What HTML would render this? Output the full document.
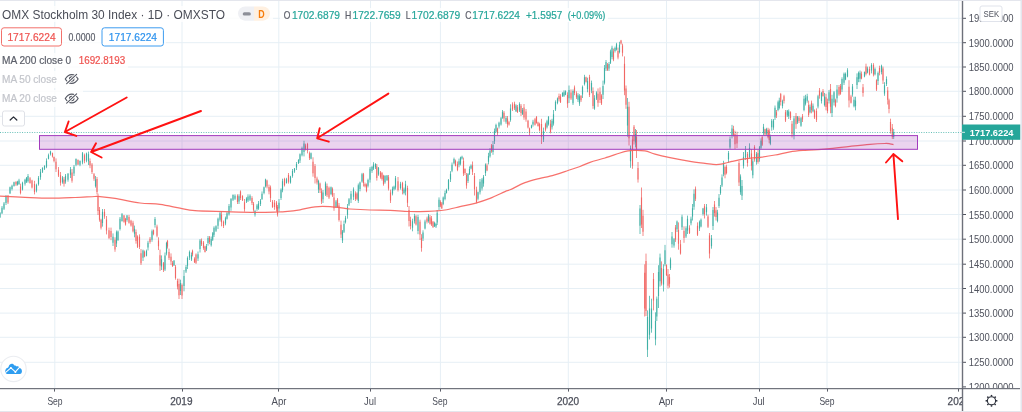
<!DOCTYPE html>
<html><head><meta charset="utf-8"><title>OMXS30</title>
<style>html,body{margin:0;padding:0;background:#fff;}body{width:1022px;height:412px;overflow:hidden;}svg{display:block;will-change:transform;opacity:0.9999;}text{font-family:"Liberation Sans",sans-serif;}</style>
</head><body>
<svg width="1022" height="412" viewBox="0 0 1022 412">
<rect x="0" y="0" width="1022" height="412" fill="#ffffff"/>
<g stroke="#e6eff5" stroke-width="1">
<line x1="0" y1="362.3" x2="962" y2="362.3"/>
<line x1="0" y1="337.3" x2="962" y2="337.3"/>
<line x1="0" y1="313.1" x2="962" y2="313.1"/>
<line x1="0" y1="288.5" x2="962" y2="288.5"/>
<line x1="0" y1="264.2" x2="962" y2="264.2"/>
<line x1="0" y1="239.2" x2="962" y2="239.2"/>
<line x1="0" y1="214.5" x2="962" y2="214.5"/>
<line x1="0" y1="190.0" x2="962" y2="190.0"/>
<line x1="0" y1="165.3" x2="962" y2="165.3"/>
<line x1="0" y1="141.0" x2="962" y2="141.0"/>
<line x1="0" y1="116.3" x2="962" y2="116.3"/>
<line x1="0" y1="91.3" x2="962" y2="91.3"/>
<line x1="0" y1="67.0" x2="962" y2="67.0"/>
<line x1="0" y1="42.7" x2="962" y2="42.7"/>
<line x1="0" y1="18.3" x2="962" y2="18.3"/>
<line x1="54.8" y1="1" x2="54.8" y2="388"/>
<line x1="182.0" y1="1" x2="182.0" y2="388"/>
<line x1="278.8" y1="1" x2="278.8" y2="388"/>
<line x1="370.5" y1="1" x2="370.5" y2="388"/>
<line x1="440.4" y1="1" x2="440.4" y2="388"/>
<line x1="568.3" y1="1" x2="568.3" y2="388"/>
<line x1="666.5" y1="1" x2="666.5" y2="388"/>
<line x1="759.4" y1="1" x2="759.4" y2="388"/>
<line x1="827.0" y1="1" x2="827.0" y2="388"/>
<line x1="958.8" y1="1" x2="958.8" y2="388"/>
</g>
<g fill="none" stroke-linecap="butt">
<path d="M8.0 195.0V204.0M16.0 181.0V186.0M20.5 183.7V194.4M30.0 177.0V183.7M32.0 179.8V188.5M34.5 180.8V194.4M52.5 152.6V157.5M54.0 156.5V162.3M56.0 158.4V172.0M58.5 167.0V177.0M60.5 172.0V185.6M64.0 177.0V186.6M72.0 169.0V182.7M78.0 159.4V165.2M84.5 153.6V163.3M90.0 158.4V168.2M92.0 163.0V174.0M94.0 173.0V180.8M97.0 177.0V194.4M98.0 193.6V215.0M99.5 207.0V221.7M101.0 218.8V229.5M104.5 209.0V218.8M106.5 216.0V234.4M109.0 227.6V239.2M111.0 227.6V240.2M115.0 237.3V251.8M124.0 215.0V222.7M125.5 217.9V225.6M129.0 215.0V223.7M131.0 219.8V226.6M133.0 220.8V232.4M136.0 229.5V243.7M137.5 235.3V248.0M139.5 234.4V249.0M141.0 249.0V265.0M144.5 250.5V257.3M150.0 237.0V243.7M153.5 229.5V235.3M157.0 224.7V237.3M158.5 237.3V250.0M160.0 249.6V271.0M163.5 262.0V272.0M167.5 239.9V248.6M169.0 248.6V260.0M171.0 253.4V265.0M172.5 261.0V267.0M175.5 265.0V279.7M177.5 278.7V289.4M179.0 278.7V299.0M182.0 283.5V299.0M192.5 249.6V256.4M194.5 257.3V263.0M196.0 253.4V264.0M201.5 238.5V246.0M203.5 241.0V249.8M205.0 245.7V252.5M209.5 236.0V244.2M221.5 211.7V226.3M223.5 220.5V228.0M237.5 194.3V204.0M240.5 190.4V200.0M242.5 195.2V201.0M244.5 199.0V211.7M252.0 196.2V205.0M253.5 202.0V211.7M267.0 179.7V188.4M269.0 184.6V194.3M270.5 185.5V202.0M272.5 200.0V207.9M274.5 200.0V209.8M276.5 201.0V211.7M277.5 205.0V216.6M284.5 177.8V186.5M288.5 173.0V183.6M305.5 143.7V150.5M307.5 142.8V153.4M309.5 151.5V160.0M313.0 157.3V176.7M315.0 164.0V183.5M317.0 176.7V184.5M320.0 182.6V193.0M321.5 188.4V204.0M327.0 183.5V197.0M329.0 186.5V199.0M332.5 187.4V197.0M334.0 193.0V210.8M337.5 198.0V207.8M339.0 203.0V221.6M341.0 220.6V238.0M355.5 191.3V201.0M357.0 192.3V200.0M363.5 172.9V186.5M365.0 182.6V187.4M366.5 183.5V192.3M376.8 164.0V180.6M380.5 171.0V178.7M382.0 172.0V180.6M383.5 174.8V185.7M388.5 175.0V190.5M390.5 189.6V203.0M398.0 177.0V191.5M402.5 181.8V194.4M407.5 185.7V207.0M409.0 206.0V226.5M410.5 216.7V229.4M416.0 214.8V225.5M420.0 219.7V240.0M421.5 234.2V251.7M427.0 216.7V223.5M430.0 215.0V224.6M431.5 216.0V226.0M433.0 221.0V228.0M440.5 200.3V207.1M441.8 202.0V209.0M455.5 159.6V166.4M457.5 161.5V171.2M463.5 157.6V176.0M465.0 168.3V175.0M466.5 173.0V188.7M472.5 161.5V175.0M474.5 173.0V195.5M476.5 186.7V203.3M487.0 163.4V171.2M491.5 144.0V152.8M497.5 127.6V135.3M504.0 111.0V121.7M507.5 116.0V127.6M509.0 120.8V125.6M512.5 102.3V111.0M514.5 101.7V110.0M517.5 105.0V113.0M521.0 104.0V116.0M524.0 104.0V119.8M526.0 109.0V121.7M528.0 119.8V128.5M529.5 127.6V135.3M535.0 117.9V125.6M536.5 116.0V123.7M538.0 121.7V126.6M539.5 122.7V131.5M541.5 118.8V144.0M545.5 122.7V131.5M550.5 119.8V133.4M559.0 93.6V101.4M560.5 94.2V103.0M567.5 92.3V107.8M571.0 89.4V100.0M574.5 85.5V95.2M576.5 91.3V99.0M581.0 95.2V102.0M586.0 76.7V82.6M589.5 74.8V97.0M593.0 87.4V108.8M598.0 88.4V106.8M600.0 87.4V103.0M601.5 94.2V105.0M607.5 63.0V71.0M613.5 48.6V61.2M618.0 47.6V59.3M621.0 39.9V44.7M622.5 43.7V56.4M624.5 56.4V95.2M626.0 85.5V108.8M629.0 101.8V145.5M632.5 135.8V168.8M634.0 125.0V144.5M636.5 130.0V158.0M638.0 162.0V182.6M641.5 187.5V228.0M643.0 209.8V236.0M644.7 264.3V316.5M646.0 253.6V316.0M653.5 273.0V310.4M661.5 261.4V285.6M666.5 264.3V276.0M668.0 269.0V288.5M669.5 274.0V287.6M675.5 225.0V241.9M678.5 222.4V249.7M680.5 240.0V254.6M684.0 226.3V242.8M689.5 225.3V234.0M695.5 186.5V201.0M697.5 222.4V236.0M704.5 204.0V218.5M708.0 214.7V228.0M709.5 233.0V258.4M714.5 201.0V216.6M716.0 207.0V220.5M725.0 165.6V178.3M726.5 164.7V174.4M733.5 125.8V136.5M735.0 130.7V149.0M737.0 131.7V148.0M739.0 160.8V186.0M747.5 152.0V166.6M751.5 149.0V170.5M754.5 145.2V161.7M758.0 150.0V163.7M762.2 135.5V146.0M765.0 128.7V135.0M768.0 127.8V138.4M769.2 128.7V143.3M776.5 110.0V118.0M780.7 92.9V105.5M784.0 94.8V103.5M785.5 110.0V122.0M790.5 111.3V120.0M792.0 121.0V137.5M796.0 113.0V128.8M799.0 116.0V123.0M802.5 114.0V122.0M808.6 100.6V117.0M811.5 100.6V113.3M814.5 109.4V119.0M816.5 108.4V122.0M819.5 88.0V98.7M823.0 89.0V96.7M826.0 93.8V110.3M827.5 98.7V113.3M830.5 84.0V113.3M835.5 98.7V107.4M839.0 85.0V95.8M840.5 84.0V94.8M849.0 80.2V107.4M851.0 94.8V103.5M861.5 71.5V79.3M863.0 84.0V96.7M866.0 63.7V75.4M869.5 66.6V75.4M873.5 63.2V76.4M876.5 79.3V91.0M879.5 65.7V75.4M883.0 66.6V84.0M887.7 87.0V104.5M889.0 98.7V113.3M890.5 118.7V133.6M892.3 124.0V139.0" stroke="#ef5350" stroke-width="0.9" opacity="0.75"/>
<path d="M0.0 212.0V218.0M2.0 206.0V214.0M4.0 202.0V210.0M6.0 195.0V205.0M10.0 186.6V194.0M12.0 184.7V190.5M14.0 181.7V186.6M17.5 180.8V185.6M19.0 178.8V184.7M22.5 181.7V190.5M25.0 178.8V185.6M26.5 177.0V183.0M28.0 174.0V182.7M36.5 183.7V192.4M38.5 176.0V185.6M40.5 169.0V179.8M42.5 167.2V173.0M44.5 165.2V170.0M46.5 158.4V168.2M48.5 153.6V159.4M50.5 150.7V155.5M62.5 176.0V183.7M65.5 174.0V183.7M68.0 173.0V181.7M70.5 167.0V178.0M74.0 165.0V176.0M76.0 158.4V166.2M80.0 160.4V166.2M82.5 152.0V164.3M86.5 152.6V162.3M88.5 151.6V165.0M95.5 176.0V187.6M102.5 209.0V226.6M113.0 233.4V246.0M116.5 230.5V247.0M118.0 230.5V241.0M120.0 217.0V230.5M122.0 213.0V221.7M127.0 215.0V221.7M134.5 225.6V237.3M143.0 249.6V261.0M146.5 249.6V256.4M148.0 240.8V250.5M152.0 229.5V241.8M155.0 217.0V227.6M161.5 255.4V270.0M165.0 252.5V271.0M166.5 241.8V255.4M174.0 260.0V266.0M180.5 279.7V295.0M184.0 270.0V291.3M186.0 265.0V273.0M187.5 256.4V269.0M189.5 250.5V260.0M191.5 252.5V261.0M198.0 251.5V261.0M200.0 239.0V252.5M206.5 244.0V251.0M208.0 236.0V245.7M211.2 236.5V246.6M212.7 232.0V241.0M214.0 226.3V237.0M216.0 225.3V232.0M218.0 217.6V229.0M220.0 211.7V221.5M225.5 216.6V225.3M227.0 211.7V219.5M229.0 204.0V215.6M231.0 198.0V210.8M233.0 194.3V201.0M235.0 194.3V200.0M239.0 194.3V204.0M246.5 197.2V203.0M248.0 194.3V202.0M250.0 194.3V201.0M255.0 209.8V216.6M257.0 204.0V210.8M258.5 201.0V209.8M260.5 199.0V206.0M262.0 191.4V200.0M264.0 186.5V194.3M265.5 178.7V187.5M279.0 199.0V211.7M281.0 188.4V200.0M282.5 178.7V192.3M286.5 177.8V183.6M290.5 175.8V183.6M292.5 169.0V177.7M294.5 168.0V172.9M296.5 162.0V170.0M298.5 159.3V164.0M300.0 153.4V163.0M302.0 146.6V156.4M304.0 140.8V156.4M311.0 152.5V159.3M318.5 179.7V193.0M323.0 190.0V203.0M325.5 181.6V196.0M331.0 186.5V195.2M336.0 200.0V208.0M342.5 230.0V243.0M344.0 220.6V233.0M345.5 215.8V223.5M347.5 204.0V218.7M349.0 198.0V206.0M351.0 191.0V203.0M353.5 187.4V200.0M358.3 183.5V203.0M360.0 181.6V191.3M362.0 172.9V182.6M368.0 178.7V187.4M370.0 167.0V182.6M372.0 166.0V172.9M373.5 162.2V170.0M375.5 163.2V169.0M378.5 167.0V175.8M385.0 175.0V183.7M387.0 175.0V180.8M392.5 186.6V195.4M394.0 185.7V190.5M395.5 176.0V189.6M400.5 181.8V189.6M404.0 187.6V194.4M405.5 180.8V195.4M412.5 218.7V231.3M414.5 213.8V223.5M418.0 214.8V234.2M423.0 230.3V241.0M425.0 219.7V229.4M428.5 214.0V222.7M434.5 221.7V227.0M436.0 222.7V228.0M437.2 210.0V225.0M439.0 197.4V210.0M443.2 196.5V205.2M445.0 190.6V200.3M446.5 188.7V193.5M448.5 179.0V190.6M450.5 171.2V182.0M452.0 162.5V172.2M454.0 157.6V164.4M459.0 158.6V167.3M460.5 156.7V165.4M462.0 155.7V159.6M468.0 173.0V183.0M469.5 166.4V175.0M471.0 164.4V169.3M478.0 191.6V200.3M480.0 179.0V194.5M482.0 178.0V190.6M483.5 175.0V186.7M485.5 163.4V176.0M488.5 152.8V164.4M490.0 148.0V157.6M493.0 141.0V154.8M494.5 128.5V144.0M496.0 123.7V132.4M499.0 121.7V128.5M501.0 117.0V125.6M502.5 110.0V118.8M506.0 116.0V123.7M510.5 104.3V121.7M516.0 104.3V112.0M519.5 102.3V112.0M522.5 108.0V115.0M531.5 124.7V128.5M533.0 119.8V126.6M543.5 127.6V142.0M547.0 119.8V128.5M548.5 116.0V125.6M552.0 118.8V129.5M553.5 110.0V125.6M555.5 100.4V111.0M557.5 97.5V104.3M562.5 92.3V97.0M564.0 90.3V97.0M565.5 90.3V95.2M569.0 85.5V103.0M573.0 89.4V105.0M578.0 93.2V102.0M579.5 94.2V105.9M582.5 85.5V98.0M584.5 74.8V85.5M587.5 77.7V92.3M591.5 80.6V93.2M594.5 95.2V109.8M596.5 91.3V100.0M603.0 80.6V99.0M604.5 65.0V84.5M606.0 60.0V71.0M609.0 62.0V71.0M610.5 49.6V64.0M612.0 45.7V59.3M615.0 46.6V52.5M616.5 42.8V50.5M619.5 41.8V53.4M627.5 98.0V136.7M630.5 145.5V167.8M635.5 129.0V147.4M640.0 205.0V234.0M647.5 310.4V357.0M649.5 295.8V339.5M651.5 298.7V332.7M655.5 312.3V345.3M656.8 296.5V321.0M658.5 265.2V308.0M660.0 253.6V286.6M663.5 264.3V291.5M665.0 244.9V266.2M670.5 257.5V270.0M672.0 232.0V247.7M674.0 238.0V247.7M677.0 220.5V232.0M682.0 214.7V230.0M686.0 226.3V238.0M687.5 215.6V234.0M691.0 216.6V225.3M692.5 204.0V220.5M694.0 189.4V209.8M699.5 220.5V231.0M701.0 218.5V227.3M703.0 207.9V215.6M706.5 204.0V215.6M711.5 235.0V248.7M713.0 207.0V230.0M717.5 209.8V222.4M719.0 194.0V207.9M720.5 185.0V194.8M722.0 174.4V187.0M723.5 160.8V176.3M728.5 151.0V162.7M730.0 136.5V149.0M732.0 124.9V138.4M740.5 174.4V194.8M742.0 180.0V200.0M743.5 152.0V168.5M745.5 146.0V159.8M749.5 143.3V158.8M752.8 158.8V178.3M756.5 152.0V164.7M759.5 146.0V161.7M761.0 138.4V149.0M763.5 123.9V135.0M766.5 127.8V135.0M770.4 134.6V145.2M771.7 119.0V130.7M773.5 119.0V129.8M775.0 105.5V120.0M778.0 100.6V111.3M779.3 97.7V109.4M782.5 99.7V108.4M787.3 110.0V117.0M788.7 109.4V119.0M794.0 116.0V139.4M797.5 116.0V124.0M801.0 117.0V126.8M804.0 95.8V111.3M805.5 94.8V105.5M807.2 93.8V102.6M810.0 104.5V113.3M813.0 103.5V112.3M818.0 94.8V108.4M821.5 91.9V103.5M824.5 92.9V106.5M829.0 90.0V103.5M832.0 94.8V117.0M834.0 91.0V105.5M837.0 85.0V102.6M842.0 77.3V92.0M844.0 72.5V85.0M845.5 72.5V80.2M847.5 68.2V77.3M852.5 84.0V96.7M854.0 96.7V107.4M855.5 96.7V110.3M857.0 73.4V89.0M858.5 71.5V82.2M860.0 70.5V82.2M864.5 71.5V77.3M867.5 66.6V73.4M871.5 63.2V73.4M875.0 67.6V75.4M878.0 71.5V85.0M881.5 64.7V74.4M884.5 82.2V95.8M886.5 76.4V86.0M893.7 129.0V139.0" stroke="#26a69a" stroke-width="0.9" opacity="0.75"/>
<path d="M8.0 195.8V202.4M16.0 182.1V184.6M20.5 186.6V192.9M30.0 178.3V183.1M32.0 180.6V187.4M34.5 183.9V192.0M52.5 153.2V156.6M54.0 157.0V161.0M56.0 161.8V169.2M58.5 169.7V175.5M60.5 175.2V182.7M64.0 179.5V183.8M72.0 172.6V180.7M78.0 160.1V164.6M84.5 155.2V160.7M90.0 161.0V165.6M92.0 164.6V172.1M94.0 174.2V178.7M97.0 179.1V192.1M98.0 196.4V211.0M99.5 210.1V219.7M101.0 219.7V227.7M104.5 211.8V216.5M106.5 219.6V230.4M109.0 230.3V238.1M111.0 231.1V237.0M115.0 239.7V249.4M124.0 215.6V221.8M125.5 218.7V224.4M129.0 216.9V222.7M131.0 220.7V225.5M133.0 222.7V231.2M136.0 232.1V241.1M137.5 236.6V246.7M139.5 236.7V247.0M141.0 253.2V263.2M144.5 251.8V256.5M150.0 238.8V242.1M153.5 230.2V233.9M157.0 226.6V235.7M158.5 240.6V246.2M160.0 255.3V265.5M163.5 263.3V270.1M167.5 241.1V246.6M169.0 251.9V258.0M171.0 256.7V261.6M172.5 262.7V266.0M175.5 266.8V277.9M177.5 281.0V286.4M179.0 284.1V295.2M182.0 285.0V295.5M192.5 250.7V254.4M194.5 258.7V262.3M196.0 254.5V262.8M201.5 240.7V244.3M203.5 242.4V248.0M205.0 246.4V251.9M209.5 237.4V242.0M221.5 214.7V222.2M223.5 221.8V225.9M237.5 195.8V202.1M240.5 191.4V198.0M242.5 196.0V200.2M244.5 202.2V209.3M252.0 197.9V203.0M253.5 203.7V209.8M267.0 180.5V186.4M269.0 187.0V191.6M270.5 187.4V198.1M272.5 201.8V207.0M274.5 202.7V206.9M276.5 202.4V208.6M277.5 206.9V214.4M284.5 178.9V185.2M288.5 175.1V181.7M305.5 145.5V149.6M307.5 144.0V150.4M309.5 153.2V158.0M313.0 161.8V173.3M315.0 165.9V177.9M317.0 178.4V182.5M320.0 183.6V190.2M321.5 191.2V201.6M327.0 186.1V195.2M329.0 187.8V197.6M332.5 188.8V195.6M334.0 197.4V208.2M337.5 199.5V207.0M339.0 205.5V220.0M341.0 224.8V234.5M355.5 193.6V198.9M357.0 193.6V198.8M363.5 174.2V182.9M365.0 183.9V186.3M366.5 184.7V191.1M376.8 166.5V178.0M380.5 172.4V177.2M382.0 173.1V179.0M383.5 175.7V184.2M388.5 177.3V188.5M390.5 192.4V200.4M398.0 181.3V189.9M402.5 182.9V191.1M407.5 188.1V202.8M409.0 209.9V221.1M410.5 220.0V226.1M416.0 216.2V224.6M420.0 221.8V234.6M421.5 237.8V247.9M427.0 218.4V221.8M430.0 217.2V223.7M431.5 218.4V224.6M433.0 221.7V227.0M440.5 202.0V205.6M441.8 203.5V208.3M455.5 160.8V165.7M457.5 164.2V170.0M463.5 160.9V173.4M465.0 169.1V173.1M466.5 175.0V185.4M472.5 165.2V171.8M474.5 175.9V189.3M476.5 189.8V201.9M487.0 165.5V170.4M491.5 145.4V151.3M497.5 128.4V133.3M504.0 112.7V118.6M507.5 118.5V124.3M509.0 122.2V124.6M512.5 104.4V109.4M514.5 103.7V108.2M517.5 107.3V112.1M521.0 105.7V113.1M524.0 107.5V117.5M526.0 111.6V119.6M528.0 120.8V127.5M529.5 128.6V133.1M535.0 119.3V124.7M536.5 116.9V122.9M538.0 122.5V126.1M539.5 123.9V130.3M541.5 124.0V137.1M545.5 124.2V129.8M550.5 123.8V131.9M559.0 95.9V99.3M560.5 96.6V102.3M567.5 94.9V103.4M571.0 92.5V98.6M574.5 87.4V93.0M576.5 93.5V97.2M581.0 95.8V100.3M586.0 77.3V81.8M589.5 77.1V94.9M593.0 90.9V106.0M598.0 93.8V102.7M600.0 91.7V100.1M601.5 95.6V103.5M607.5 64.4V69.9M613.5 51.5V59.6M618.0 51.0V57.6M621.0 40.5V43.5M622.5 45.5V52.7M624.5 63.7V90.5M626.0 88.5V104.8M629.0 106.7V138.2M632.5 139.5V165.8M634.0 126.8V141.3M636.5 136.8V149.6M638.0 167.9V179.5M641.5 197.4V224.5M643.0 215.7V231.7M644.7 272.8V308.5M646.0 260.9V311.0M653.5 278.9V300.6M661.5 268.1V283.5M666.5 265.3V274.9M668.0 274.5V285.8M669.5 277.3V283.8M675.5 227.5V239.5M678.5 230.1V243.7M680.5 244.2V253.4M684.0 231.1V238.0M689.5 227.8V233.0M695.5 188.7V198.7M697.5 225.8V234.7M704.5 206.2V214.2M708.0 216.5V226.7M709.5 235.6V253.6M714.5 204.4V213.0M716.0 210.3V216.9M725.0 167.0V174.8M726.5 166.7V172.9M733.5 129.0V135.4M735.0 134.1V144.2M737.0 136.0V143.4M739.0 163.0V182.4M747.5 154.0V162.9M751.5 153.5V165.8M754.5 147.0V159.6M758.0 153.1V162.0M762.2 137.1V144.7M765.0 129.3V134.4M768.0 130.1V137.3M769.2 130.4V139.9M776.5 112.2V115.6M780.7 93.9V102.0M784.0 96.3V101.1M785.5 112.2V120.6M790.5 112.2V118.1M792.0 123.7V134.3M796.0 116.1V124.3M799.0 117.8V121.0M802.5 116.3V119.6M808.6 104.9V115.1M811.5 102.7V109.9M814.5 110.6V117.4M816.5 111.0V119.8M819.5 90.6V95.7M823.0 90.9V96.0M826.0 97.3V107.0M827.5 101.9V111.1M830.5 89.1V106.7M835.5 100.3V106.3M839.0 87.0V94.5M840.5 86.0V93.7M849.0 86.8V100.6M851.0 96.5V102.7M861.5 73.7V78.4M863.0 87.2V93.1M866.0 66.6V74.1M869.5 68.9V74.4M873.5 64.9V74.6M876.5 80.3V89.6M879.5 67.9V72.7M883.0 68.4V80.6M887.7 90.6V99.7M889.0 100.2V108.9M890.5 122.0V131.1M892.3 127.8V136.9" stroke="#ef5350" stroke-width="1.2" opacity="0.65"/>
<path d="M0.0 212.9V217.3M2.0 207.8V213.2M4.0 203.6V208.7M6.0 195.9V203.1M10.0 187.3V193.3M12.0 185.7V189.0M14.0 182.2V186.0M17.5 181.8V184.8M19.0 180.5V184.2M22.5 182.7V189.6M25.0 179.8V183.8M26.5 177.7V181.8M28.0 175.9V181.3M36.5 185.0V190.6M38.5 177.7V184.2M40.5 171.8V177.3M42.5 168.0V171.8M44.5 166.1V168.7M46.5 160.8V166.8M48.5 155.3V158.8M50.5 151.5V154.3M62.5 177.6V182.3M65.5 175.8V181.5M68.0 173.8V179.7M70.5 169.4V174.7M74.0 166.8V173.5M76.0 159.1V164.8M80.0 160.9V164.8M82.5 153.3V162.6M86.5 153.5V160.6M88.5 154.3V161.3M95.5 179.4V186.3M102.5 211.8V223.0M113.0 236.8V242.8M116.5 232.2V243.4M118.0 231.5V240.0M120.0 218.7V228.9M122.0 214.3V220.9M127.0 215.6V219.9M134.5 228.7V233.8M143.0 250.6V257.7M146.5 251.0V255.8M148.0 242.7V247.6M152.0 231.2V239.8M155.0 219.1V224.9M161.5 259.2V266.5M165.0 255.4V269.4M166.5 243.0V253.5M174.0 260.8V265.2M180.5 283.1V291.1M184.0 276.0V285.9M186.0 267.0V271.5M187.5 257.9V265.8M189.5 252.0V257.6M191.5 255.0V259.6M198.0 254.2V258.6M200.0 240.5V249.0M206.5 246.1V249.4M208.0 237.9V242.9M211.2 239.1V245.3M212.7 233.2V239.7M214.0 227.7V234.8M216.0 226.2V230.8M218.0 218.8V225.8M220.0 213.2V219.7M225.5 218.3V223.6M227.0 213.2V218.8M229.0 206.1V214.2M231.0 199.0V207.5M233.0 195.1V199.8M235.0 195.7V198.8M239.0 196.3V201.6M246.5 198.4V201.6M248.0 196.5V200.6M250.0 195.7V199.7M255.0 211.1V214.6M257.0 205.6V208.9M258.5 203.5V208.6M260.5 200.4V204.0M262.0 193.7V199.1M264.0 187.3V192.9M265.5 179.5V186.3M279.0 202.8V208.4M281.0 189.7V198.0M282.5 181.3V190.2M286.5 179.2V183.1M290.5 176.5V182.4M292.5 170.9V176.0M294.5 168.5V171.4M296.5 164.0V167.6M298.5 159.8V163.3M300.0 154.3V160.6M302.0 148.0V155.3M304.0 143.5V152.0M311.0 153.2V158.7M318.5 181.0V189.4M323.0 192.6V199.3M325.5 183.6V194.4M331.0 187.3V194.1M336.0 201.5V207.0M342.5 231.6V240.6M344.0 224.1V231.7M345.5 217.8V222.2M347.5 206.8V214.8M349.0 199.3V204.5M351.0 193.8V199.4M353.5 189.4V196.7M358.3 185.3V200.9M360.0 182.5V188.9M362.0 174.2V181.5M368.0 180.0V185.8M370.0 168.8V179.8M372.0 167.0V170.9M373.5 164.5V168.4M375.5 164.0V167.3M378.5 167.7V174.4M385.0 175.9V182.2M387.0 175.5V180.3M392.5 188.8V193.4M394.0 186.8V189.2M395.5 178.3V187.5M400.5 183.7V187.9M404.0 189.5V192.9M405.5 184.3V191.6M412.5 221.3V227.8M414.5 216.0V221.2M418.0 216.9V231.1M423.0 232.6V238.5M425.0 221.5V228.6M428.5 215.7V221.0M434.5 223.0V226.3M436.0 224.0V226.4M437.2 212.8V222.5M439.0 199.7V207.1M443.2 197.5V204.0M445.0 193.0V198.9M446.5 189.7V193.1M448.5 180.1V189.0M450.5 173.7V179.5M452.0 164.7V170.8M454.0 158.9V163.2M459.0 161.2V164.8M460.5 157.4V163.8M462.0 156.7V158.5M468.0 174.1V181.0M469.5 168.9V174.1M471.0 165.7V168.4M478.0 192.3V198.7M480.0 181.8V192.2M482.0 179.4V188.6M483.5 176.7V183.6M485.5 164.4V172.9M488.5 156.1V161.7M490.0 150.7V156.2M493.0 145.1V151.9M494.5 131.0V141.3M496.0 124.9V131.6M499.0 122.7V126.6M501.0 118.2V124.4M502.5 111.7V117.7M506.0 118.1V121.7M510.5 108.4V120.1M516.0 105.4V111.3M519.5 104.1V110.5M522.5 110.1V114.0M531.5 125.4V128.0M533.0 121.7V124.6M543.5 131.1V139.5M547.0 121.2V127.2M548.5 116.9V124.2M552.0 120.8V127.2M553.5 114.2V123.6M555.5 101.9V109.6M557.5 98.6V103.1M562.5 92.7V95.9M564.0 92.2V95.8M565.5 91.3V94.8M569.0 90.1V98.3M573.0 91.0V103.2M578.0 95.2V99.8M579.5 96.3V103.5M582.5 87.1V94.5M584.5 77.2V83.9M587.5 80.9V88.9M591.5 83.1V90.6M594.5 98.3V108.6M596.5 92.6V98.4M603.0 86.0V94.7M604.5 67.9V82.8M606.0 62.1V68.5M609.0 64.0V68.4M610.5 51.5V62.7M612.0 47.8V57.0M615.0 48.1V51.1M616.5 44.3V49.5M619.5 44.8V51.9M627.5 106.8V125.5M630.5 148.3V161.2M635.5 134.1V142.4M640.0 208.5V225.7M647.5 317.0V349.7M649.5 308.5V334.8M651.5 308.6V328.4M655.5 320.9V339.5M656.8 298.7V316.5M658.5 272.1V295.9M660.0 257.6V281.3M663.5 268.9V284.5M665.0 250.2V264.3M670.5 259.4V268.3M672.0 236.6V244.3M674.0 239.3V245.4M677.0 221.4V229.2M682.0 216.7V227.2M686.0 228.2V236.4M687.5 218.8V230.5M691.0 218.8V223.2M692.5 208.3V216.4M694.0 193.8V206.7M699.5 221.8V228.4M701.0 219.7V226.5M703.0 208.6V214.0M706.5 207.2V212.2M711.5 238.2V246.3M713.0 210.0V226.1M717.5 212.6V221.1M719.0 197.7V205.9M720.5 187.0V193.2M722.0 177.5V185.4M723.5 162.9V174.2M728.5 153.0V159.2M730.0 138.9V147.4M732.0 128.4V135.4M740.5 176.6V192.3M742.0 185.9V195.8M743.5 156.7V165.8M745.5 149.7V157.3M749.5 147.8V157.2M752.8 161.3V175.2M756.5 153.7V162.0M759.5 147.3V159.3M761.0 140.8V147.7M763.5 126.7V132.8M766.5 129.0V133.6M770.4 136.4V143.7M771.7 120.7V127.3M773.5 120.6V127.6M775.0 107.8V117.5M778.0 102.3V110.0M779.3 100.5V107.9M782.5 101.2V106.1M787.3 110.6V115.6M788.7 111.5V116.3M794.0 118.6V136.1M797.5 116.8V122.5M801.0 118.2V125.7M804.0 98.7V109.9M805.5 97.8V103.7M807.2 96.3V100.7M810.0 106.7V112.2M813.0 105.8V111.2M818.0 96.3V106.6M821.5 92.9V101.1M824.5 96.5V105.1M829.0 92.3V100.7M832.0 98.8V113.1M834.0 92.2V102.4M837.0 89.4V98.2M842.0 78.9V89.4M844.0 73.8V82.8M845.5 74.0V79.5M847.5 70.2V76.4M852.5 86.4V94.6M854.0 99.8V106.2M855.5 100.4V106.2M857.0 77.2V85.0M858.5 72.8V79.0M860.0 72.7V78.8M864.5 72.0V76.4M867.5 68.5V72.4M871.5 65.1V70.5M875.0 69.1V74.2M878.0 73.1V81.1M881.5 65.8V71.9M884.5 85.2V93.6M886.5 79.0V84.1M893.7 132.0V136.9" stroke="#26a69a" stroke-width="1.2" opacity="0.65"/>
</g>
<path d="M0 196C4.2 196.22 16.7 196.93 25 197.3C33.3 197.67 41.7 198.17 50 198.2C58.3 198.23 67.5 197.78 75 197.5C82.5 197.22 90.8 196.63 95 196.5C99.2 196.37 96.7 196.38 100 196.7C103.3 197.02 108.3 197.35 115 198.4C121.7 199.45 132.5 202.02 140 203C147.5 203.98 153.3 203.43 160 204.3C166.7 205.17 174.2 207.13 180 208.2C185.8 209.27 187.5 210.13 195 210.7C202.5 211.27 215.0 211.33 225 211.6C235.0 211.87 246.2 212.23 255 212.3C263.8 212.37 273.0 212.10 278 212C283.0 211.90 281.3 212.07 285 211.7C288.7 211.33 295.0 210.62 300 209.8C305.0 208.98 310.0 207.32 315 206.8C320.0 206.28 325.0 206.43 330 206.7C335.0 206.97 341.7 208.02 345 208.4C348.3 208.78 345.8 208.73 350 209C354.2 209.27 363.3 209.78 370 210C376.7 210.22 383.3 210.05 390 210.3C396.7 210.55 405.0 211.28 410 211.5C415.0 211.72 415.8 211.68 420 211.6C424.2 211.52 430.8 211.27 435 211C439.2 210.73 440.8 210.72 445 210C449.2 209.28 455.0 207.82 460 206.7C465.0 205.58 470.0 204.68 475 203.3C480.0 201.92 485.0 200.35 490 198.4C495.0 196.45 501.7 193.03 505 191.6C508.3 190.17 506.7 191.28 510 189.8C513.3 188.32 520.0 184.60 525 182.7C530.0 180.80 535.8 179.48 540 178.4C544.2 177.32 545.3 177.52 550 176.2C554.7 174.88 563.0 172.12 568 170.5C573.0 168.88 576.3 167.87 580 166.5C583.7 165.13 585.8 163.72 590 162.3C594.2 160.88 600.0 159.55 605 158C610.0 156.45 616.2 154.18 620 153C623.8 151.82 625.8 151.33 628 150.9C630.2 150.47 630.2 150.42 633 150.4C635.8 150.38 641.3 150.17 645 150.8C648.7 151.43 650.8 153.05 655 154.2C659.2 155.35 664.2 156.50 670 157.7C675.8 158.90 684.2 160.47 690 161.4C695.8 162.33 701.2 162.80 705 163.3C708.8 163.80 710.7 164.22 713 164.4C715.3 164.58 717.0 164.60 719 164.4C721.0 164.20 722.8 163.70 725 163.2C727.2 162.70 728.7 162.13 732 161.4C735.3 160.67 740.3 159.48 745 158.8C749.7 158.12 755.0 157.93 760 157.3C765.0 156.67 770.0 155.92 775 155C780.0 154.08 785.0 152.58 790 151.8C795.0 151.02 798.8 150.78 805 150.3C811.2 149.82 819.5 149.57 827 148.9C834.5 148.23 842.8 147.07 850 146.3C857.2 145.53 864.2 144.77 870 144.3C875.8 143.83 881.7 143.58 885 143.5C888.3 143.42 888.6 143.62 890 143.8C891.4 143.98 892.9 144.47 893.5 144.6" stroke="#f6625c" stroke-width="1.25" fill="none" stroke-linejoin="round" opacity="0.9"/>
<line x1="0" y1="132.5" x2="962" y2="132.5" stroke="#26a69a" stroke-width="1" stroke-dasharray="1 1.45" opacity="0.7"/>
<rect x="39.5" y="135.6" width="878" height="13.7" fill="rgba(156,39,176,0.2)" stroke="#a23bbd" stroke-width="1"/>
<path d="M126.7 97.5L64.9 132M68.6 121.5L64.9 132L76.3 135.9" stroke="#ff1212" stroke-width="1.9" fill="none" stroke-linecap="round" stroke-linejoin="round"/>
<path d="M201 111L91.1 152M96 143.3L91.1 152L101.6 157.5" stroke="#ff1212" stroke-width="1.9" fill="none" stroke-linecap="round" stroke-linejoin="round"/>
<path d="M388.4 93.6L317.2 138.3M319.7 128.2L317.2 138.3L328.8 141.7" stroke="#ff1212" stroke-width="1.9" fill="none" stroke-linecap="round" stroke-linejoin="round"/>
<path d="M898 219.1L893.4 154M886 162.5L893.4 154L902.3 161.3" stroke="#ff1212" stroke-width="1.9" fill="none" stroke-linecap="round" stroke-linejoin="round"/>
<rect x="962" y="0" width="60" height="412" fill="#ffffff"/>
<rect x="0" y="388" width="1022" height="24" fill="#ffffff"/>
<g font-size="10.2" fill="#4f525d">
<line x1="963" y1="386.9" x2="966" y2="386.9" stroke="#50535e" stroke-width="1"/>
<clipPath id="c12"><rect x="963" y="370" width="59" height="18"/></clipPath><text clip-path="url(#c12)" x="968.8" y="390.9" textLength="44.7" lengthAdjust="spacingAndGlyphs">1200.0000</text>
<line x1="963" y1="362.3" x2="966" y2="362.3" stroke="#50535e" stroke-width="1"/>
<text x="968.8" y="366.4" textLength="44.7" lengthAdjust="spacingAndGlyphs">1250.0000</text>
<line x1="963" y1="337.3" x2="966" y2="337.3" stroke="#50535e" stroke-width="1"/>
<text x="968.8" y="341.4" textLength="44.7" lengthAdjust="spacingAndGlyphs">1300.0000</text>
<line x1="963" y1="313.1" x2="966" y2="313.1" stroke="#50535e" stroke-width="1"/>
<text x="968.8" y="317.2" textLength="44.7" lengthAdjust="spacingAndGlyphs">1350.0000</text>
<line x1="963" y1="288.5" x2="966" y2="288.5" stroke="#50535e" stroke-width="1"/>
<text x="968.8" y="292.6" textLength="44.7" lengthAdjust="spacingAndGlyphs">1400.0000</text>
<line x1="963" y1="264.2" x2="966" y2="264.2" stroke="#50535e" stroke-width="1"/>
<text x="968.8" y="268.2" textLength="44.7" lengthAdjust="spacingAndGlyphs">1450.0000</text>
<line x1="963" y1="239.2" x2="966" y2="239.2" stroke="#50535e" stroke-width="1"/>
<text x="968.8" y="243.2" textLength="44.7" lengthAdjust="spacingAndGlyphs">1500.0000</text>
<line x1="963" y1="214.5" x2="966" y2="214.5" stroke="#50535e" stroke-width="1"/>
<text x="968.8" y="218.6" textLength="44.7" lengthAdjust="spacingAndGlyphs">1550.0000</text>
<line x1="963" y1="190.0" x2="966" y2="190.0" stroke="#50535e" stroke-width="1"/>
<text x="968.8" y="194.1" textLength="44.7" lengthAdjust="spacingAndGlyphs">1600.0000</text>
<line x1="963" y1="165.3" x2="966" y2="165.3" stroke="#50535e" stroke-width="1"/>
<text x="968.8" y="169.4" textLength="44.7" lengthAdjust="spacingAndGlyphs">1650.0000</text>
<line x1="963" y1="141.0" x2="966" y2="141.0" stroke="#50535e" stroke-width="1"/>
<text x="968.8" y="145.1" textLength="44.7" lengthAdjust="spacingAndGlyphs">1700.0000</text>
<line x1="963" y1="116.3" x2="966" y2="116.3" stroke="#50535e" stroke-width="1"/>
<text x="968.8" y="120.3" textLength="44.7" lengthAdjust="spacingAndGlyphs">1750.0000</text>
<line x1="963" y1="91.3" x2="966" y2="91.3" stroke="#50535e" stroke-width="1"/>
<text x="968.8" y="95.3" textLength="44.7" lengthAdjust="spacingAndGlyphs">1800.0000</text>
<line x1="963" y1="67.0" x2="966" y2="67.0" stroke="#50535e" stroke-width="1"/>
<text x="968.8" y="71.0" textLength="44.7" lengthAdjust="spacingAndGlyphs">1850.0000</text>
<line x1="963" y1="42.7" x2="966" y2="42.7" stroke="#50535e" stroke-width="1"/>
<text x="968.8" y="46.8" textLength="44.7" lengthAdjust="spacingAndGlyphs">1900.0000</text>
<line x1="963" y1="18.3" x2="966" y2="18.3" stroke="#50535e" stroke-width="1"/>
<text x="968.8" y="22.4" textLength="44.7" lengthAdjust="spacingAndGlyphs">1950.0000</text>
</g>
<rect x="961.8" y="1" width="1.4" height="410" fill="#6d707a"/>
<rect x="0" y="388.1" width="1020" height="1.1" fill="#62656f"/>
<rect x="980" y="6" width="22" height="15.5" rx="2" fill="#ffffff" stroke="#e0e3eb" stroke-width="1"/>
<text x="983.6" y="17" font-size="9.4" fill="#4f525d" textLength="15.6" lengthAdjust="spacingAndGlyphs">SEK</text>
<rect x="962" y="124.5" width="58.4" height="15.3" fill="#26a69a"/><line x1="962" y1="132.3" x2="965" y2="132.3" stroke="#ffffff" stroke-width="1" opacity="0.8"/>
<text x="969.7" y="135.8" font-size="9.7" font-weight="bold" fill="#ffffff" textLength="43.8" lengthAdjust="spacingAndGlyphs">1717.6224</text>
<clipPath id="ct"><rect x="0" y="389" width="962" height="23"/></clipPath>
<g font-size="10.1" fill="#4c4f5a" clip-path="url(#ct)">
<line x1="54.5" y1="389" x2="54.5" y2="391.6" stroke="#5a5d68" stroke-width="1"/>
<text x="47.4" y="404.5" textLength="15.2" lengthAdjust="spacingAndGlyphs">Sep</text>
<line x1="182.5" y1="389" x2="182.5" y2="391.6" stroke="#5a5d68" stroke-width="1"/>
<text x="170.2" y="404.5" textLength="22.3" lengthAdjust="spacingAndGlyphs" stroke="#4c4f5a" stroke-width="0.25">2019</text>
<line x1="278.5" y1="389" x2="278.5" y2="391.6" stroke="#5a5d68" stroke-width="1"/>
<text x="271.5" y="404.5" textLength="15" lengthAdjust="spacingAndGlyphs">Apr</text>
<line x1="370.5" y1="389" x2="370.5" y2="391.6" stroke="#5a5d68" stroke-width="1"/>
<text x="364.0" y="404.5" textLength="12" lengthAdjust="spacingAndGlyphs">Jul</text>
<line x1="440.5" y1="389" x2="440.5" y2="391.6" stroke="#5a5d68" stroke-width="1"/>
<text x="432.2" y="404.5" textLength="15.2" lengthAdjust="spacingAndGlyphs">Sep</text>
<line x1="568.5" y1="389" x2="568.5" y2="391.6" stroke="#5a5d68" stroke-width="1"/>
<text x="556.9" y="404.5" textLength="22.3" lengthAdjust="spacingAndGlyphs" stroke="#4c4f5a" stroke-width="0.25">2020</text>
<line x1="666.5" y1="389" x2="666.5" y2="391.6" stroke="#5a5d68" stroke-width="1"/>
<text x="658.7" y="404.5" textLength="15" lengthAdjust="spacingAndGlyphs">Apr</text>
<line x1="759.5" y1="389" x2="759.5" y2="391.6" stroke="#5a5d68" stroke-width="1"/>
<text x="752.7" y="404.5" textLength="12" lengthAdjust="spacingAndGlyphs">Jul</text>
<line x1="827.5" y1="389" x2="827.5" y2="391.6" stroke="#5a5d68" stroke-width="1"/>
<text x="819.4" y="404.5" textLength="15.2" lengthAdjust="spacingAndGlyphs">Sep</text>
<line x1="958.5" y1="389" x2="958.5" y2="391.6" stroke="#5a5d68" stroke-width="1"/>
<text x="947.6" y="404.5" textLength="22.3" lengthAdjust="spacingAndGlyphs" stroke="#4c4f5a" stroke-width="0.25">2021</text>
</g>
<circle cx="991.5" cy="400.8" r="4.1" fill="none" stroke="#2a2e39" stroke-width="1.1"/><line x1="995.90" y1="400.80" x2="997.40" y2="400.80" stroke="#2a2e39" stroke-width="1.5"/><line x1="994.61" y1="403.91" x2="995.67" y2="404.97" stroke="#2a2e39" stroke-width="1.5"/><line x1="991.50" y1="405.20" x2="991.50" y2="406.70" stroke="#2a2e39" stroke-width="1.5"/><line x1="988.39" y1="403.91" x2="987.33" y2="404.97" stroke="#2a2e39" stroke-width="1.5"/><line x1="987.10" y1="400.80" x2="985.60" y2="400.80" stroke="#2a2e39" stroke-width="1.5"/><line x1="988.39" y1="397.69" x2="987.33" y2="396.63" stroke="#2a2e39" stroke-width="1.5"/><line x1="991.50" y1="396.40" x2="991.50" y2="394.90" stroke="#2a2e39" stroke-width="1.5"/><line x1="994.61" y1="397.69" x2="995.67" y2="396.63" stroke="#2a2e39" stroke-width="1.5"/>
<g>
<g fill="#ffffff" opacity="0.85"><rect x="0" y="6" width="273" height="16"/><rect x="280" y="8" width="328" height="14"/><rect x="0" y="27" width="166" height="20"/><rect x="0" y="53" width="128" height="15"/><rect x="0" y="71" width="83" height="17"/><rect x="0" y="90" width="83" height="17"/></g>
<text x="2" y="19" font-size="12.3" fill="#4a4d57" textLength="223" lengthAdjust="spacingAndGlyphs">OMX Stockholm 30 Index · 1D · OMXSTO</text>
<clipPath id="cp"><rect x="238" y="6.5" width="32" height="14.2" rx="7.1"/></clipPath>
<g clip-path="url(#cp)"><rect x="238" y="6" width="16" height="16" fill="#eff0f4"/><rect x="254" y="6" width="17" height="16" fill="#fff0e0"/></g>
<rect x="242.7" y="12.2" width="8.2" height="3.4" rx="1.7" fill="#8d8f98"/>
<text x="258.3" y="17.8" font-size="10.8" font-weight="bold" fill="#f77c0a" textLength="6.4" lengthAdjust="spacingAndGlyphs">D</text>
<text x="283.7" y="19" font-size="10.3" fill="#5d606b" stroke="#5d606b" stroke-width="0.2" textLength="6.6" lengthAdjust="spacingAndGlyphs">O</text>
<text x="291.9" y="19" font-size="10.3" fill="#26a69a" stroke="#26a69a" stroke-width="0.2" textLength="48.1" lengthAdjust="spacingAndGlyphs">1702.6879</text>
<text x="345" y="19" font-size="10.3" fill="#5d606b" stroke="#5d606b" stroke-width="0.2" textLength="6.3" lengthAdjust="spacingAndGlyphs">H</text>
<text x="352.5" y="19" font-size="10.3" fill="#26a69a" stroke="#26a69a" stroke-width="0.2" textLength="48.2" lengthAdjust="spacingAndGlyphs">1722.7659</text>
<text x="405.8" y="19" font-size="10.3" fill="#5d606b" stroke="#5d606b" stroke-width="0.2" textLength="4.8" lengthAdjust="spacingAndGlyphs">L</text>
<text x="411.6" y="19" font-size="10.3" fill="#26a69a" stroke="#26a69a" stroke-width="0.2" textLength="48.6" lengthAdjust="spacingAndGlyphs">1702.6879</text>
<text x="465.3" y="19" font-size="10.3" fill="#5d606b" stroke="#5d606b" stroke-width="0.2" textLength="6.2" lengthAdjust="spacingAndGlyphs">C</text>
<text x="472.3" y="19" font-size="10.3" fill="#26a69a" stroke="#26a69a" stroke-width="0.2" textLength="47.7" lengthAdjust="spacingAndGlyphs">1717.6224</text>
<text x="526" y="19" font-size="10.3" fill="#26a69a" stroke="#26a69a" stroke-width="0.2" textLength="36.3" lengthAdjust="spacingAndGlyphs">+1.5957</text>
<text x="567.8" y="19" font-size="10.3" fill="#26a69a" stroke="#26a69a" stroke-width="0.2" textLength="37.6" lengthAdjust="spacingAndGlyphs">(+0.09%)</text>
<rect x="1.5" y="27.8" width="60" height="18.2" rx="2.5" fill="#ffffff" stroke="#f2716b" stroke-width="1"/>
<text x="7.4" y="40.7" font-size="10.3" fill="#ef5350" stroke="#ef5350" stroke-width="0.2" textLength="48.2" lengthAdjust="spacingAndGlyphs">1717.6224</text>
<text x="68.5" y="40.5" font-size="10.3" fill="#5d606b" stroke="#5d606b" stroke-width="0.2" textLength="26.8" lengthAdjust="spacingAndGlyphs">0.0000</text>
<rect x="102" y="27.8" width="61.4" height="18.2" rx="2.5" fill="#ffffff" stroke="#3d9cf0" stroke-width="1"/>
<text x="108.8" y="40.7" font-size="10.3" fill="#2e93ee" stroke="#2e93ee" stroke-width="0.2" textLength="48.2" lengthAdjust="spacingAndGlyphs">1717.6224</text>
<text x="2" y="63.6" font-size="10" fill="#5d606b" stroke="#5d606b" stroke-width="0.2" textLength="69.2" lengthAdjust="spacingAndGlyphs">MA 200 close 0</text>
<text x="78.7" y="63.6" font-size="10" fill="#ef5350" stroke="#ef5350" stroke-width="0.2" textLength="46.5" lengthAdjust="spacingAndGlyphs">1692.8193</text>
<text x="2" y="82.7" font-size="10" fill="#c3c5cb" stroke="#c3c5cb" stroke-width="0.2" textLength="54.8" lengthAdjust="spacingAndGlyphs">MA 50 close</text>
<text x="2" y="102.4" font-size="10" fill="#c3c5cb" stroke="#c3c5cb" stroke-width="0.2" textLength="54.8" lengthAdjust="spacingAndGlyphs">MA 20 close</text>
<g fill="none" stroke="#555863" stroke-width="1.15" stroke-linecap="round"><path d="M65.3 79C67.5 75.2 70.0 74.6 71.7 74.6C73.4 74.6 75.9 75.2 78.10000000000001 79C75.9 82.8 73.4 83.4 71.7 83.4C70.0 83.4 67.5 82.8 65.3 79Z"/><circle cx="71.7" cy="79" r="2.2"/><line x1="67.10000000000001" y1="83.3" x2="76.10000000000001" y2="74.9" stroke="#ffffff" stroke-width="2.8" stroke-linecap="butt"/><line x1="66.7" y1="83.6" x2="76.60000000000001" y2="74.3"/></g>
<g fill="none" stroke="#555863" stroke-width="1.15" stroke-linecap="round"><path d="M65.3 98.5C67.5 94.7 70.0 94.1 71.7 94.1C73.4 94.1 75.9 94.7 78.10000000000001 98.5C75.9 102.3 73.4 102.9 71.7 102.9C70.0 102.9 67.5 102.3 65.3 98.5Z"/><circle cx="71.7" cy="98.5" r="2.2"/><line x1="67.10000000000001" y1="102.8" x2="76.10000000000001" y2="94.4" stroke="#ffffff" stroke-width="2.8" stroke-linecap="butt"/><line x1="66.7" y1="103.1" x2="76.60000000000001" y2="93.8"/></g>
<rect x="2.5" y="111" width="22" height="15" rx="2" fill="#ffffff" stroke="#dfe1e7" stroke-width="1"/>
<path d="M10.2 120L13.5 116.9L16.8 120" fill="none" stroke="#2a2e39" stroke-width="1.3" stroke-linecap="round" stroke-linejoin="round"/>
</g>
<circle cx="13.5" cy="368.9" r="12.7" fill="#ffffff" stroke="#ebedf1" stroke-width="1.1"/>
<path d="M7 374H19.8C22.6 374 22.8 369 19.7 368C19.1 366.5 17.6 366 16.6 366.4C16 365.4 14.9 365.2 14.4 365.6C13.4 363.2 9.6 363.1 8.7 366.5C8.4 367 8.2 367.4 8 367.8C4.8 368 4.2 373.6 7 374Z" fill="#2e9df0"/>
<path d="M5.4 372.6L10.9 367.9L15.4 371.9L19.7 367.2" fill="none" stroke="#ffffff" stroke-width="1.1" stroke-linejoin="round"/>
<circle cx="10.9" cy="367.9" r="1" fill="#ffffff"/><circle cx="15.4" cy="371.9" r="1" fill="#ffffff"/>
<rect x="0" y="0" width="1022" height="1" fill="#e4e6ed"/>
<rect x="0" y="411" width="1022" height="1" fill="#e4e6ed"/>
<rect x="1020.5" y="0" width="1.5" height="412" fill="#e4e6ed"/>
</svg></body></html>
